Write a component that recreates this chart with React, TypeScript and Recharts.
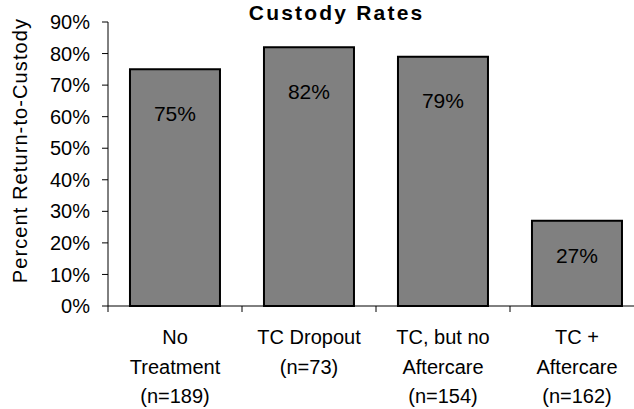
import { BarChart, Bar, XAxis, YAxis, LabelList } from 'recharts';

const categories = [
  'No\nTreatment\n(n=189)',
  'TC Dropout\n(n=73)',
  'TC, but no\nAftercare\n(n=154)',
  'TC +\nAftercare\n(n=162)',
];
const rates = [75, 82, 79, 27];
const yTicks = [0, 10, 20, 30, 40, 50, 60, 70, 80, 90];

const data = categories.map((name, i) => ({ name, rate: rates[i] }));

const FONT = '"Liberation Sans", Arial, Helvetica, sans-serif';

// category label plus a tick mark on the left edge of each band
function CategoryTick(props: any) {
  const { x, y, payload } = props;
  const half = payload.offset ?? 0;
  const lines = String(payload.value).split('\n');
  return (
    <g>
      <line x1={x - half} x2={x - half} y1={y - 6} y2={y} stroke="#000" strokeWidth={1} />
      <text x={x} y={y} textAnchor="middle" fontFamily={FONT} fontSize={20} fill="#000">
        {lines.map((l, i) => (
          <tspan key={i} x={x} dy={i === 0 ? 32.3 : 29.5}>
            {l}
          </tspan>
        ))}
      </text>
    </g>
  );
}

function YLabel(props: any) {
  const { viewBox } = props;
  const cx = 27;
  const cy = viewBox.y + viewBox.height / 2 - 13.4;
  return (
    <text
      x={cx}
      y={cy}
      transform={`rotate(-90, ${cx}, ${cy})`}
      textAnchor="middle"
      fontFamily={FONT}
      fontSize={20}
      letterSpacing={1.1}
      fill="#000"
    >
      Percent Return-to-Custody
    </text>
  );
}

function BarLabel(props: any) {
  const { x, y, width, height, value } = props;
  const dy = Math.min(44, height * 0.41);
  return (
    <text
      x={x + width / 2}
      y={y + dy}
      textAnchor="middle"
      dominantBaseline="central"
      fontFamily={FONT}
      fontSize={21}
      fill="#000"
    >
      {value}%
    </text>
  );
}

export default function App() {
  return (
    <div
      style={{
        position: 'absolute',
        left: 0,
        top: 0,
        width: 634,
        height: 409,
        overflow: 'hidden',
        background: '#fff',
      }}
    >
      <BarChart
        width={660}
        height={409}
        data={data}
        margin={{ top: 22, right: 16, bottom: 0, left: 0 }}
        barCategoryGap="16.4%"
      >
        <text
          x={336.6}
          y={19.5}
          textAnchor="middle"
          fontFamily={FONT}
          fontSize={21}
          fontWeight="bold"
          letterSpacing={2.2}
          fill="#000"
        >
          Custody Rates
        </text>
        <XAxis
          dataKey="name"
          height={103}
          interval={0}
          tickSize={6}
          tickMargin={0}
          tickLine={false}
          axisLine={{ stroke: '#000' }}
          tick={<CategoryTick />}
        />
        <YAxis
          width={108}
          domain={[0, 90]}
          ticks={yTicks}
          interval={0}
          tickFormatter={(v) => `${v}%`}
          tick={{ fill: '#000', fontSize: 20, fontFamily: FONT }}
          tickSize={6}
          tickMargin={12}
          axisLine={{ stroke: '#000' }}
          tickLine={{ stroke: '#000' }}
          label={{ value: 'Percent Return-to-Custody', content: YLabel }}
        />
        <Bar dataKey="rate" fill="#808080" stroke="#000" strokeWidth={2} isAnimationActive={false}>
          <LabelList dataKey="rate" content={BarLabel} />
        </Bar>
      </BarChart>
    </div>
  );
}
